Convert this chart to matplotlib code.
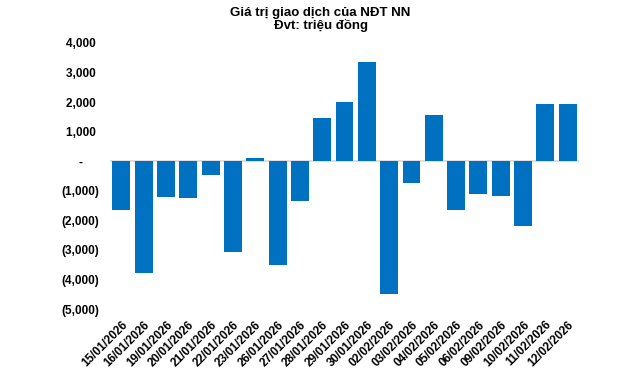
import numpy as np
import matplotlib.pyplot as plt

plt.rcParams['font.family'] = ['Liberation Sans', 'DejaVu Sans']

dates = ['15/01/2026', '16/01/2026', '19/01/2026', '20/01/2026', '21/01/2026',
         '22/01/2026', '23/01/2026', '26/01/2026', '27/01/2026', '28/01/2026',
         '29/01/2026', '30/01/2026', '02/02/2026', '03/02/2026', '04/02/2026',
         '05/02/2026', '06/02/2026', '09/02/2026', '10/02/2026', '11/02/2026',
         '12/02/2026']
values = [-1650, -3770, -1205, -1240, -475, -3065, 110, -3510, -1350, 1450,
          1990, 3345, -4480, -735, 1555, -1655, -1115, -1170, -2185, 1925, 1925]
yticks = [4000, 3000, 2000, 1000, 0, -1000, -2000, -3000, -4000, -5000]


# accounting style: (1,000) for negatives, dash for zero
def fmt(v):
    if v == 0:
        return '-     '
    if v < 0:
        return '({:,})'.format(-v)
    return '{:,} '.format(v)


fig = plt.figure(figsize=(6.41, 3.69), dpi=100)
ax = fig.add_axes([0.172, 0.1626, 0.731, 0.7209])

x = np.arange(len(dates))
ax.bar(x, values, width=0.8, color='#0070c0', zorder=2)
ax.axhline(0, color='#d9d9d9', lw=1.2, zorder=1)

ax.set_xlim(-0.5, len(dates) - 0.5)
ax.set_ylim(-5000, 4000)
ax.set_yticks(yticks)
ax.set_yticklabels([fmt(v) for v in yticks], fontsize=8.5, fontweight='bold')
ax.set_xticks(x)
ax.set_xticklabels(dates, rotation=45, ha='right', rotation_mode='anchor',
                   fontsize=8.5, fontweight='bold')
ax.tick_params(axis='both', length=0)
ax.tick_params(axis='x', pad=7)
ax.tick_params(axis='y', pad=8)
for s in ax.spines.values():
    s.set_visible(False)

fig.text(0.5, 0.982, 'Giá trị giao dịch của NĐT NN\nĐvt: triệu đồng',
         ha='center', va='top', fontsize=9.5, fontweight='bold', linespacing=1.05)

fig.savefig('out.png', dpi=100)
